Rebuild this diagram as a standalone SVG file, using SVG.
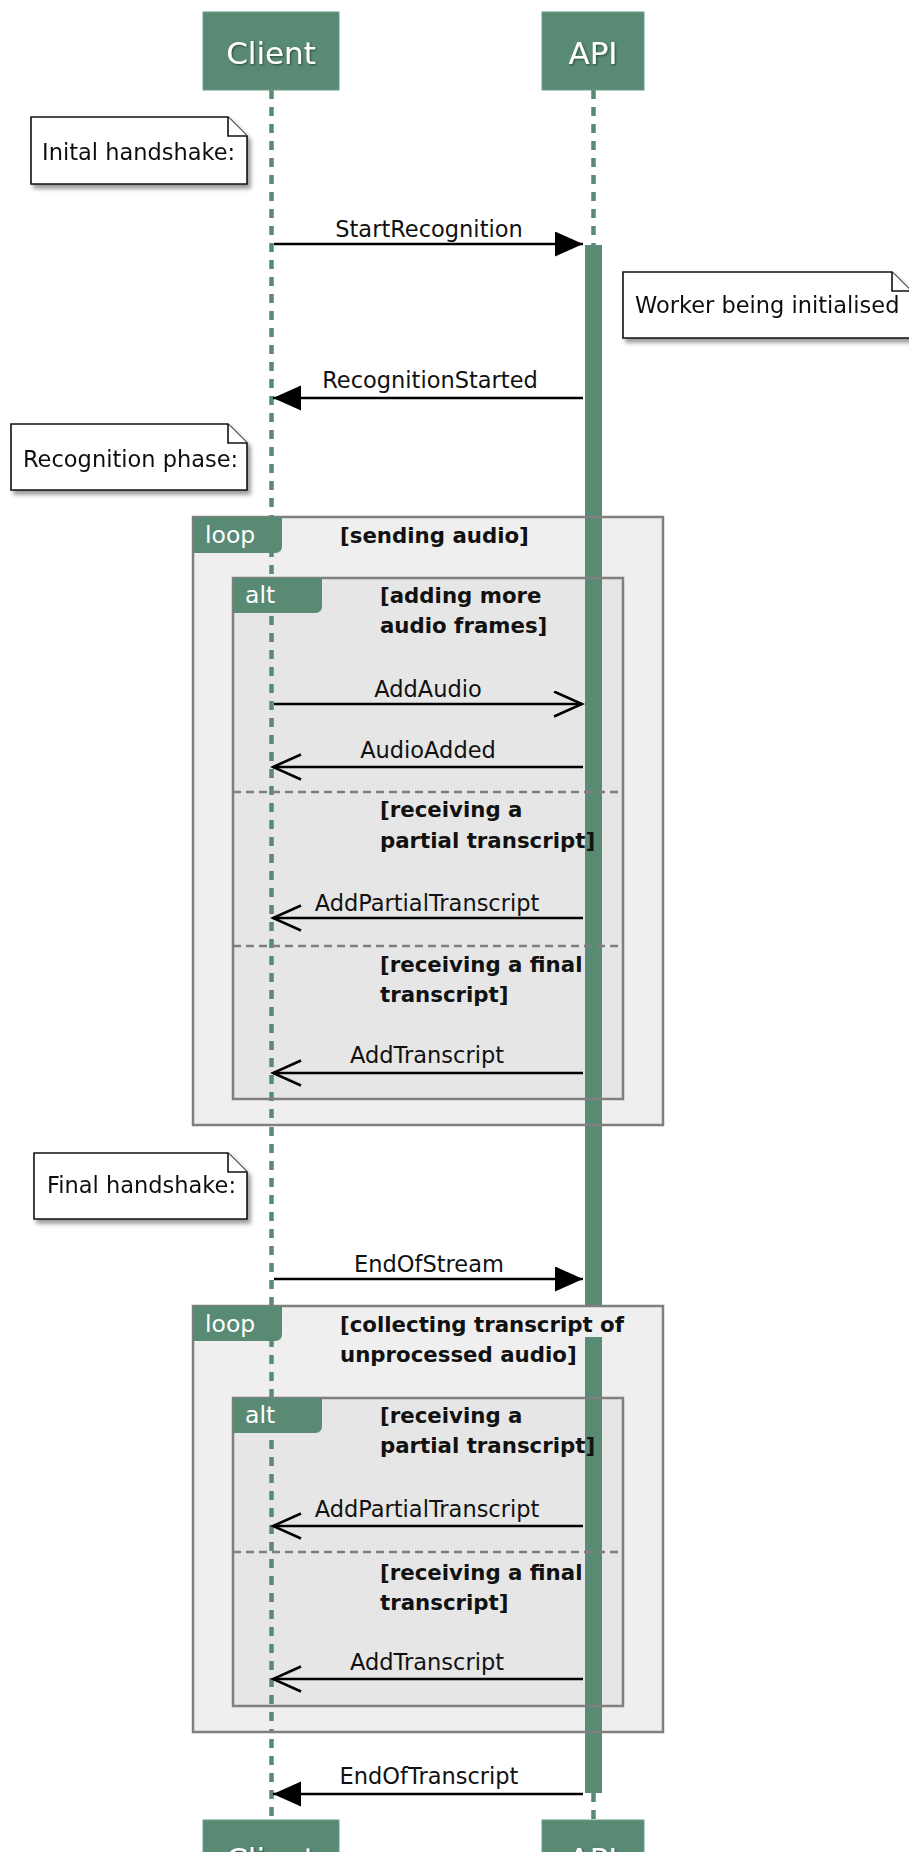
<svg xmlns="http://www.w3.org/2000/svg" width="909" height="1852" viewBox="0 0 909 1852">
<defs>
<style>
.part{fill:#588a74;stroke:#6e9b87;stroke-width:1}
.ptxt{font-family:"DejaVu Sans",sans-serif;font-size:31px;fill:#ffffff;text-anchor:middle}
.life{stroke:#588a74;stroke-width:4.5;stroke-dasharray:9,8;fill:none}
.act{fill:#588a74}
.note{fill:#ffffff;stroke:#111111;stroke-width:1.6}
.fold{fill:#ffffff;stroke:#111111;stroke-width:1.6}
.ntxt{font-family:"DejaVu Sans",sans-serif;font-size:22.5px;fill:#111111}
.msg{stroke:#000000;stroke-width:2.6;fill:none}
.mtxt{font-family:"DejaVu Sans",sans-serif;font-size:22.5px;fill:#111111;text-anchor:middle}
.loopf{fill:#efefef;stroke:none}
.altf{fill:#e6e6e6;stroke:none}
.frame{fill:none;stroke:#7f7f7f;stroke-width:2.5}
.sep{stroke:#7f7f7f;stroke-width:2.4;stroke-dasharray:8,5;fill:none}
.tab{fill:#588a74}
.ttxt{font-family:"DejaVu Sans",sans-serif;font-size:23.5px;fill:#ffffff}
.gtxt{font-family:"DejaVu Sans",sans-serif;font-size:21.3px;font-weight:bold;fill:#111111}
</style>
<filter id="sh" x="-10%" y="-10%" width="130%" height="140%">
<feDropShadow dx="3" dy="4" stdDeviation="2" flood-color="#000000" flood-opacity="0.4"/>
</filter>
<filter id="tsh" x="-10%" y="-10%" width="130%" height="140%">
<feDropShadow dx="1" dy="1" stdDeviation="0.8" flood-color="#000000" flood-opacity="0.5"/>
</filter>
<marker id="fillR" markerUnits="userSpaceOnUse" markerWidth="30" markerHeight="28" refX="28" refY="12.5" orient="auto">
<path d="M0,0 L28,12.5 L0,25 Z" fill="#000000"/>
</marker>
<marker id="openR" markerUnits="userSpaceOnUse" markerWidth="32" markerHeight="30" refX="29" refY="13.5" orient="auto">
<path d="M1,1 L29,13.5 L1,26" fill="none" stroke="#000000" stroke-width="2.6"/>
</marker>
</defs>

<!-- lifelines -->
<g id="lifelines">
<line class="life" x1="271.5" y1="90" x2="271.5" y2="1820"/>
<line class="life" x1="593.5" y1="90" x2="593.5" y2="245"/>
<line class="life" x1="593.5" y1="1793" x2="593.5" y2="1820"/>
</g>

<!-- frame backgrounds -->
<g id="frame-fills">
<rect class="loopf" x="193" y="517" width="470" height="608"/>
<rect class="altf" x="233" y="578" width="390" height="521"/>
<rect class="loopf" x="193" y="1306" width="470" height="426"/>
<rect class="altf" x="233" y="1398" width="390" height="308"/>
</g>

<!-- client lifeline over frame fills -->
<g id="lifelines-front">
<line class="life" x1="271.5" y1="517" x2="271.5" y2="1125" stroke-dashoffset="3"/>
<line class="life" x1="271.5" y1="1306" x2="271.5" y2="1732" stroke-dashoffset="2"/>
</g>

<!-- activation -->
<g id="activation">
<rect class="act" x="585" y="245" width="17" height="1061"/>
<rect class="act" x="585" y="1337" width="17" height="456"/>
</g>

<!-- frames -->
<g id="loop1">
<rect class="frame" x="193" y="517" width="470" height="608"/>
<path class="tab" d="M193,517 H282 V546 Q282,553 275,553 H193 Z"/>
<text class="ttxt" x="205" y="543">loop</text>
<text class="gtxt" x="340" y="543">[sending audio]</text>
</g>
<g id="alt1">
<rect class="frame" x="233" y="578" width="390" height="521"/>
<path class="tab" d="M233,578 H322 V606 Q322,613 315,613 H233 Z"/>
<text class="ttxt" x="245" y="603">alt</text>
<text class="gtxt" x="380" y="603">[adding more</text>
<text class="gtxt" x="380" y="633">audio frames]</text>
<line class="sep" x1="233" y1="792" x2="623" y2="792"/>
<text class="gtxt" x="380" y="817">[receiving a</text>
<text class="gtxt" x="380" y="848">partial transcript]</text>
<line class="sep" x1="233" y1="946" x2="623" y2="946"/>
<text class="gtxt" x="380" y="972">[receiving a final</text>
<text class="gtxt" x="380" y="1002">transcript]</text>
</g>
<g id="loop2">
<rect class="frame" x="193" y="1306" width="470" height="426"/>
<path class="tab" d="M193,1306 H282 V1334 Q282,1341 275,1341 H193 Z"/>
<text class="ttxt" x="205" y="1332">loop</text>
<text class="gtxt" x="340" y="1332">[collecting transcript of</text>
<text class="gtxt" x="340" y="1362">unprocessed audio]</text>
</g>
<g id="alt2">
<rect class="frame" x="233" y="1398" width="390" height="308"/>
<path class="tab" d="M233,1398 H322 V1426 Q322,1433 315,1433 H233 Z"/>
<text class="ttxt" x="245" y="1423">alt</text>
<text class="gtxt" x="380" y="1423">[receiving a</text>
<text class="gtxt" x="380" y="1453">partial transcript]</text>
<line class="sep" x1="233" y1="1552" x2="623" y2="1552"/>
<text class="gtxt" x="380" y="1580">[receiving a final</text>
<text class="gtxt" x="380" y="1610">transcript]</text>
</g>

<!-- participants -->
<g id="client-top">
<rect class="part" x="203" y="12" width="136" height="78"/>
<text class="ptxt" x="271" y="64" filter="url(#tsh)">Client</text>
</g>
<g id="api-top">
<rect class="part" x="542" y="12" width="102" height="78"/>
<text class="ptxt" x="593" y="64" filter="url(#tsh)">API</text>
</g>
<g id="client-bottom">
<rect class="part" x="203" y="1820" width="136" height="78"/>
<text class="ptxt" x="271" y="1870" filter="url(#tsh)">Client</text>
</g>
<g id="api-bottom">
<rect class="part" x="542" y="1820" width="102" height="78"/>
<text class="ptxt" x="593" y="1870" filter="url(#tsh)">API</text>
</g>

<!-- notes -->
<g id="note-initial" filter="url(#sh)">
<path class="note" d="M31,117 H228 L247,136 V184 H31 Z"/>
<path class="fold" d="M228,117 V136 H247"/>
<text class="ntxt" x="42" y="160">Inital handshake:</text>
</g>
<g id="note-worker" filter="url(#sh)">
<path class="note" d="M623,272 H892 L911,291 V338 H623 Z"/>
<path class="fold" d="M892,272 V291 H911"/>
<text class="ntxt" x="635" y="313">Worker being initialised</text>
</g>
<g id="note-recognition" filter="url(#sh)">
<path class="note" d="M11,424 H228 L247,443 V490 H11 Z"/>
<path class="fold" d="M228,424 V443 H247"/>
<text class="ntxt" x="23" y="467">Recognition phase:</text>
</g>
<g id="note-final" filter="url(#sh)">
<path class="note" d="M34,1153 H228 L247,1172 V1219 H34 Z"/>
<path class="fold" d="M228,1153 V1172 H247"/>
<text class="ntxt" x="47" y="1193">Final handshake:</text>
</g>

<!-- connectors -->
<g id="connectors">
<line class="msg" x1="274" y1="244" x2="583" y2="244" marker-end="url(#fillR)"/>
<text class="mtxt" x="429" y="237">StartRecognition</text>
<line class="msg" x1="583" y1="398" x2="273" y2="398" marker-end="url(#fillR)"/>
<text class="mtxt" x="430" y="388">RecognitionStarted</text>
<line class="msg" x1="274" y1="704" x2="582" y2="704" marker-end="url(#openR)"/>
<text class="mtxt" x="428" y="697">AddAudio</text>
<line class="msg" x1="583" y1="767" x2="273" y2="767" marker-end="url(#openR)"/>
<text class="mtxt" x="428" y="758">AudioAdded</text>
<line class="msg" x1="583" y1="918" x2="273" y2="918" marker-end="url(#openR)"/>
<text class="mtxt" x="427" y="911">AddPartialTranscript</text>
<line class="msg" x1="583" y1="1073" x2="273" y2="1073" marker-end="url(#openR)"/>
<text class="mtxt" x="427" y="1063">AddTranscript</text>
<line class="msg" x1="274" y1="1279" x2="583" y2="1279" marker-end="url(#fillR)"/>
<text class="mtxt" x="429" y="1272">EndOfStream</text>
<line class="msg" x1="583" y1="1526" x2="273" y2="1526" marker-end="url(#openR)"/>
<text class="mtxt" x="427" y="1517">AddPartialTranscript</text>
<line class="msg" x1="583" y1="1679" x2="273" y2="1679" marker-end="url(#openR)"/>
<text class="mtxt" x="427" y="1670">AddTranscript</text>
<line class="msg" x1="583" y1="1794" x2="273" y2="1794" marker-end="url(#fillR)"/>
<text class="mtxt" x="429" y="1784">EndOfTranscript</text>
</g>
</svg>
